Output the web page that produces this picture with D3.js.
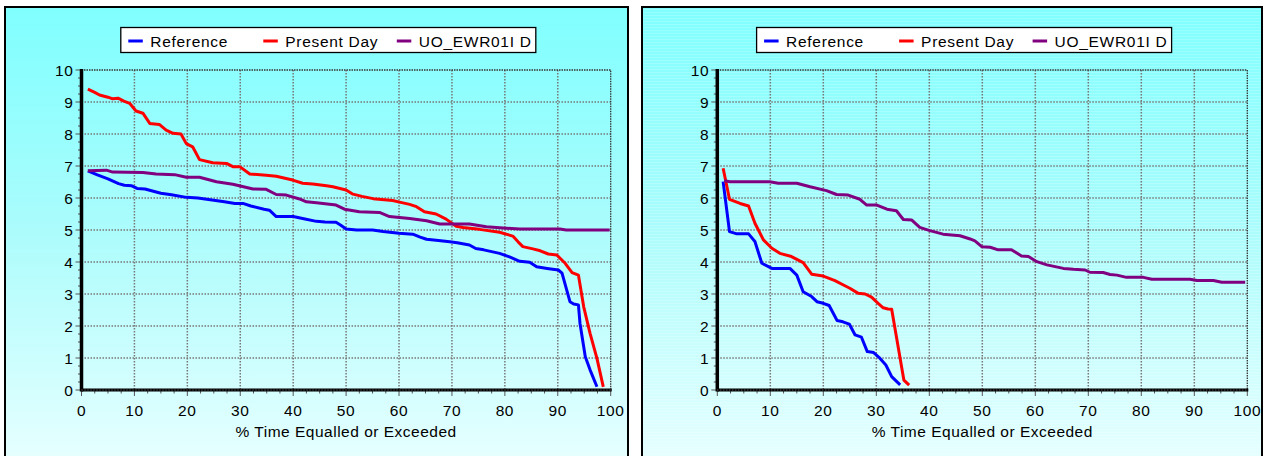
<!DOCTYPE html>
<html>
<head>
<meta charset="utf-8">
<script src="https://cdnjs.cloudflare.com/ajax/libs/d3/7.8.5/d3.min.js"></script>
<style>
  body { margin: 0; background: #fff; }
  svg { display: block; font-family: "Liberation Sans", Arial, sans-serif; }
</style>
</head>
<body>
<div id="chart"></div>
<script>
// series names and colours
var seriesNames = ["Reference", "Present Day", "UO_EWR01I D"];
var seriesColors = ["#0000ff", "#ff0000", "#800080"];

var xTicks = [0, 10, 20, 30, 40, 50, 60, 70, 80, 90, 100];
var yTicks = [0, 1, 2, 3, 4, 5, 6, 7, 8, 9, 10];
var xTitle = "% Time Equalled or Exceeded";

// left chart, [% time, value]
var leftReference = [[1.2,6.85],[3,6.72],[5,6.6],[7,6.45],[8.1,6.4],[9.5,6.38],[10.5,6.3],[12,6.28],[15,6.15],[17,6.1],
  [19.8,6.02],[22,6.0],[24,5.95],[27,5.88],[29,5.83],[30.5,5.83],[32,5.75],[34.5,5.65],[35.5,5.62],[36.8,5.42],[40,5.42],
  [42,5.35],[44.4,5.27],[46,5.25],[48.1,5.24],[49,5.15],[50,5.03],[52,5.0],[55,5.0],[57,4.95],[60,4.9],[62.6,4.87],
  [64,4.78],[65.2,4.71],[67,4.68],[69.6,4.63],[71,4.6],[73.3,4.53],[74.5,4.42],[76,4.38],[79,4.27],[81,4.15],[82.8,4.02],
  [84.7,3.99],[86,3.85],[88,3.8],[90.1,3.75],[90.8,3.65],[92.3,2.76],[93,2.69],[93.9,2.66],[94.2,2.08],[95.2,1.04],
  [96.1,0.63],[97.4,0.1]];
var leftPresent = [[1.2,9.4],[2.5,9.3],[3.4,9.22],[5,9.15],[5.9,9.1],[6.9,9.12],[8,9.03],[9.1,8.96],[10.3,8.72],[11.6,8.65],
  [12.9,8.33],[14.7,8.3],[16,8.12],[17.3,8.02],[18.8,8.0],[19.8,7.7],[21,7.6],[22.3,7.2],[24.8,7.1],[27.4,7.08],[28.6,6.98],
  [29.9,6.98],[31.8,6.75],[34.9,6.71],[36.8,6.68],[39.9,6.56],[41.8,6.46],[43.7,6.44],[46.3,6.38],[47.5,6.35],[50,6.25],
  [51.3,6.12],[53,6.05],[55.1,5.98],[58.8,5.92],[60.1,5.87],[62,5.8],[63.3,5.73],[64.8,5.57],[67,5.5],[68.9,5.34],
  [70.8,5.12],[72.1,5.08],[75.2,5.02],[79,4.93],[81.5,4.81],[82.5,4.63],[83.4,4.48],[85.3,4.41],[86.7,4.35],[88.2,4.25],
  [89.8,4.22],[91.4,3.96],[92.7,3.67],[93.9,3.59],[94.9,2.6],[96.1,1.77],[97.4,0.99],[98.6,0.1]];
var leftScenario = [[1.2,6.85],[4.7,6.87],[5.9,6.81],[11.6,6.8],[14.1,6.75],[17.6,6.73],[19.8,6.65],[22.3,6.65],[25.5,6.51],
  [28.6,6.43],[32.4,6.28],[34.9,6.27],[36.8,6.11],[38.7,6.09],[41.2,5.97],[42.5,5.88],[44.4,5.85],[48.1,5.78],[49.7,5.65],
  [52.5,5.57],[56.3,5.55],[58.2,5.42],[62,5.36],[65.2,5.29],[67.7,5.19],[73.3,5.19],[76.5,5.1],[82.8,5.03],[90.4,5.03],
  [91.6,5.0],[99.8,5.0]];

// right chart
var rightReference = [[1.1,6.51],[2.3,4.95],[3.7,4.88],[5.9,4.88],[7.1,4.64],[8.4,3.96],[10.3,3.8],[13.7,3.8],[15,3.59],
  [16.2,3.07],[17.8,2.92],[18.8,2.76],[20,2.71],[21.1,2.64],[22.6,2.17],[23.7,2.13],[24.9,2.06],[26,1.72],[27.2,1.65],
  [28.3,1.2],[29.5,1.17],[30.5,1.02],[31.8,0.78],[32.9,0.42],[34.5,0.16]];
var rightPresent = [[1.1,6.93],[2.3,5.96],[4.3,5.83],[5.9,5.75],[7.1,5.21],[8.7,4.69],[10.3,4.43],[11.8,4.27],[14,4.17],
  [16.2,3.98],[17.8,3.62],[20,3.56],[22.2,3.42],[23.8,3.28],[25,3.18],[26.6,3.02],[27.9,3.0],[29.1,2.9],[30.4,2.7],
  [31.3,2.57],[32.2,2.53],[32.9,2.52],[35.2,0.31],[36.2,0.15]];
var rightScenario = [[1.3,6.54],[2.4,6.51],[9.9,6.51],[11.5,6.46],[15,6.46],[17.5,6.35],[20.6,6.23],[22.5,6.11],[24.7,6.09],
  [26.9,5.96],[28.2,5.78],[30.1,5.78],[32,5.65],[33.8,5.6],[35.1,5.33],[36.7,5.31],[38.2,5.08],[40.1,4.98],[42.6,4.87],
  [45.8,4.82],[47.7,4.72],[48.6,4.66],[49.9,4.48],[51.5,4.46],[53,4.38],[55.5,4.38],[57.4,4.19],[58.7,4.17],[60.3,4.01],
  [62.2,3.91],[65.3,3.8],[67.2,3.77],[69.4,3.75],[70.3,3.68],[72.8,3.67],[74.1,3.61],[75.4,3.59],[77.2,3.52],[80.4,3.52],
  [82,3.46],[89.2,3.46],[90.5,3.42],[93.6,3.42],[95.2,3.37],[99.6,3.37]];

var width = 1265, height = 456;
var svg = d3.select("#chart").append("svg")
  .attr("width", width)
  .attr("height", height);

var defs = svg.append("defs");
var grad = defs.append("linearGradient")
  .attr("id", "bg").attr("x1", 0).attr("y1", 0).attr("x2", 0).attr("y2", 1);
grad.append("stop").attr("offset", "0%").attr("stop-color", "#80ffff");
grad.append("stop").attr("offset", "45%").attr("stop-color", "#a8fcfc");
grad.append("stop").attr("offset", "100%").attr("stop-color", "#e8ffff");

var stripes = defs.append("pattern")
  .attr("id", "stripes").attr("width", 4).attr("height", 3)
  .attr("patternUnits", "userSpaceOnUse");
stripes.append("rect").attr("width", 4).attr("height", 1)
  .attr("fill", "#ffffff").attr("opacity", 0.18);

function drawPanel(p) {
  var g = svg.append("g");
  var top = 70, bottom = 390;

  g.append("rect")
    .attr("x", p.x0).attr("y", 7)
    .attr("width", p.x1 - p.x0).attr("height", 460)
    .attr("fill", "url(#bg)")
    .attr("stroke", "#000").attr("stroke-width", 2);
  if (p.striped) {
    g.append("rect")
      .attr("x", p.x0 + 1).attr("y", 8)
      .attr("width", p.x1 - p.x0 - 2).attr("height", 448)
      .attr("fill", "url(#stripes)");
  }

  var x = d3.scaleLinear().domain([0, 100]).range([p.left, p.right]);
  var y = d3.scaleLinear().domain([0, 10]).range([bottom, top]);

  // grid
  g.append("g").selectAll("line")
    .data(xTicks.slice(1, -1))
    .enter().append("line")
    .attr("x1", function(d) { return x(d); }).attr("x2", function(d) { return x(d); })
    .attr("y1", top).attr("y2", bottom)
    .attr("stroke", "#777").attr("stroke-width", 1.5)
    .attr("stroke-dasharray", "1.5,1.5");
  g.append("g").selectAll("line")
    .data(yTicks.slice(1, -1))
    .enter().append("line")
    .attr("x1", p.left).attr("x2", p.right)
    .attr("y1", function(d) { return y(d); }).attr("y2", function(d) { return y(d); })
    .attr("stroke", "#777").attr("stroke-width", 1.5)
    .attr("stroke-dasharray", "1.5,1.5");

  // top and right frame, dotted
  g.append("path")
    .attr("d", "M" + p.left + "," + top + "H" + p.right + "V" + bottom)
    .attr("fill", "none")
    .attr("stroke", "#333").attr("stroke-width", 1.3)
    .attr("stroke-dasharray", "1.5,1");

  // minor ticks
  var xMinor = d3.range(0, 100.01, 2.5);
  var yMinor = d3.range(0, 10.01, 0.25);
  g.append("g").selectAll("line")
    .data(xMinor)
    .enter().append("line")
    .attr("x1", function(d) { return x(d); }).attr("x2", function(d) { return x(d); })
    .attr("y1", bottom).attr("y2", function(d) { return bottom + (d % 10 === 0 ? 6 : 3.5); })
    .attr("stroke", "#555").attr("stroke-width", 1);
  g.append("g").selectAll("line")
    .data(yMinor)
    .enter().append("line")
    .attr("y1", function(d) { return y(d); }).attr("y2", function(d) { return y(d); })
    .attr("x1", p.left).attr("x2", function(d) { return p.left - (d % 1 === 0 ? 6 : 3.5); })
    .attr("stroke", "#555").attr("stroke-width", 1);

  // tick labels
  g.append("g").selectAll("text")
    .data(yTicks)
    .enter().append("text")
    .attr("x", p.left - 8)
    .attr("y", function(d) { return y(d) + 5.5; })
    .attr("text-anchor", "end")
    .attr("font-size", 15.5)
    .attr("letter-spacing", 0.6)
    .text(function(d) { return d; });
  g.append("g").selectAll("text")
    .data(xTicks)
    .enter().append("text")
    .attr("x", function(d) { return x(d); })
    .attr("y", 415.5)
    .attr("text-anchor", "middle")
    .attr("font-size", 15.5)
    .attr("letter-spacing", 0.6)
    .text(function(d) { return d; });

  g.append("text")
    .attr("x", (p.left + p.right) / 2)
    .attr("y", 437)
    .attr("text-anchor", "middle")
    .attr("font-size", 15.5)
    .attr("letter-spacing", 0.5)
    .text(xTitle);

  // lines
  var line = d3.line()
    .x(function(d) { return x(d[0]); })
    .y(function(d) { return y(d[1]); });
  p.series.forEach(function(s, i) {
    g.append("path")
      .datum(s)
      .attr("d", line)
      .attr("fill", "none")
      .attr("stroke", seriesColors[i])
      .attr("stroke-width", 3)
      .attr("stroke-linejoin", "round");
  });

  // axes, drawn on top
  g.append("line")
    .attr("x1", p.left).attr("x2", p.left)
    .attr("y1", top - 1).attr("y2", bottom + 1.5)
    .attr("stroke", "#000").attr("stroke-width", 3.5);
  g.append("line")
    .attr("x1", p.left).attr("x2", p.right + 1)
    .attr("y1", bottom).attr("y2", bottom)
    .attr("stroke", "#000").attr("stroke-width", 3);
  g.append("line")
    .attr("x1", p.left).attr("x2", p.right)
    .attr("y1", bottom).attr("y2", bottom)
    .attr("stroke", "#777").attr("stroke-width", 1)
    .attr("stroke-dasharray", "1,2");

  // legend
  var lx = p.left + 39.3, ly = 27.5;
  var leg = g.append("g").attr("transform", "translate(" + lx + "," + ly + ")");
  leg.append("rect")
    .attr("width", 415).attr("height", 25)
    .attr("fill", "#fff").attr("stroke", "#000").attr("stroke-width", 1.3);
  var itemX = [7.5, 142.5, 276];
  seriesNames.forEach(function(name, i) {
    leg.append("line")
      .attr("x1", itemX[i]).attr("x2", itemX[i] + 14.5)
      .attr("y1", 13.5).attr("y2", 13.5)
      .attr("stroke", seriesColors[i]).attr("stroke-width", 3);
    leg.append("text")
      .attr("x", itemX[i] + 22)
      .attr("y", 19.5)
      .attr("font-size", 15.5)
      .attr("letter-spacing", 0.7)
      .text(name);
  });
}

drawPanel({ x0: 5, x1: 628, left: 81.5, right: 610.7, striped: false,
  series: [leftReference, leftPresent, leftScenario] });
drawPanel({ x0: 642, x1: 1262, left: 717.3, right: 1247.3, striped: true,
  series: [rightReference, rightPresent, rightScenario] });
</script>
</body>
</html>
